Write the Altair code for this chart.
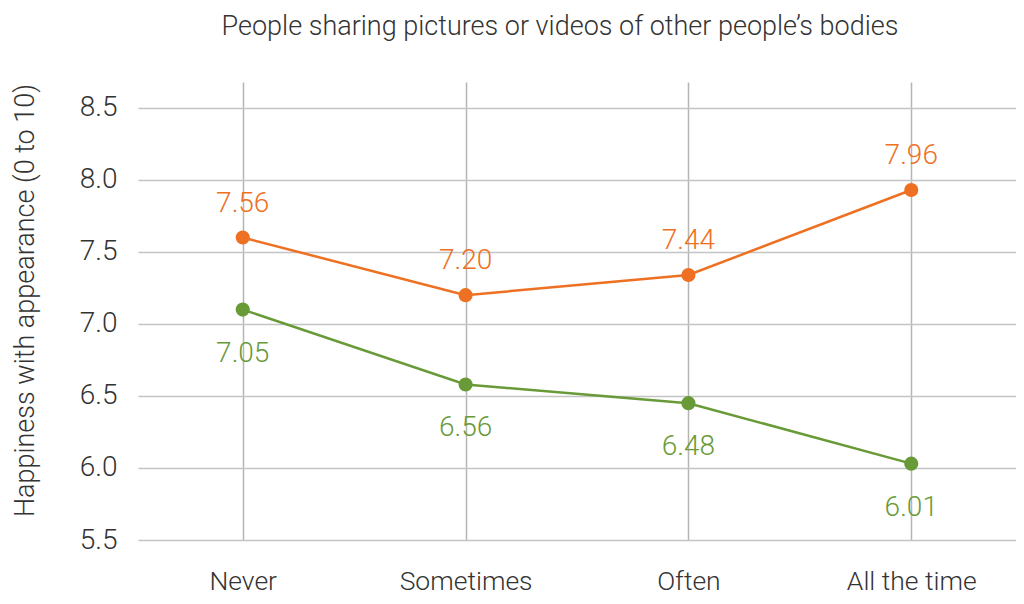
import altair as alt
import pandas as pd

categories = ["Never", "Sometimes", "Often", "All the time"]
orange_values = [7.60, 7.20, 7.34, 7.93]
green_values = [7.10, 6.58, 6.45, 6.03]
orange_labels = ["7.56", "7.20", "7.44", "7.96"]
green_labels = ["7.05", "6.56", "6.48", "6.01"]
series_names = ["Orange", "Green"]
y_ticks = [5.5, 6.0, 6.5, 7.0, 7.5, 8.0, 8.5]

ORANGE = "#EE7022"
GREEN = "#699A38"
FONT = "Roboto"

rows = []
for name, vals, labs in zip(series_names, [orange_values, green_values], [orange_labels, green_labels]):
    for c, v, l in zip(categories, vals, labs):
        rows.append({"cat": c, "value": v, "label": l, "series": name})
df = pd.DataFrame(rows)

x = alt.X(
    "cat:N",
    sort=categories,
    scale=alt.Scale(type="point", padding=0.47),
    axis=alt.Axis(
        title=None, grid=True, gridColor="#b5b5b5", gridWidth=1.5,
        domain=False, ticks=False, labelAngle=0,
        labelFont=FONT, labelFontWeight=300, labelFontSize=26.5,
        labelColor="#333333", labelPadding=49, labelBaseline="alphabetic",
    ),
)
y = alt.Y(
    "value:Q",
    scale=alt.Scale(domain=[5.5, 8.68], nice=False, zero=False),
    axis=alt.Axis(
        values=y_ticks, format=".1f", grid=True, gridColor="#c4c4c4", gridWidth=1.5,
        domain=False, ticks=False,
        labelFont=FONT, labelFontWeight=300, labelFontSize=28,
        labelColor="#333333", labelPadding=21,
        title="Happiness with appearance (0 to 10)",
        titleFont=FONT, titleFontWeight=300, titleFontSize=27, titleColor="#333333",
        titleX=-113, titleY=218, titleAngle=270, titleAlign="center", titleBaseline="middle",
    ),
)
color = alt.Color("series:N", scale=alt.Scale(domain=series_names, range=[ORANGE, GREEN]), legend=None)

base = alt.Chart(df).encode(x=x, y=y, color=color)

lines = base.mark_line(strokeWidth=2.5)
points = base.mark_point(filled=True, size=200, opacity=1)
text_orange = base.transform_filter(alt.datum.series == "Orange").mark_text(
    font=FONT, fontWeight=300, fontSize=28, dy=-34, baseline="middle"
).encode(text="label:N")
text_green = base.transform_filter(alt.datum.series == "Green").mark_text(
    font=FONT, fontWeight=300, fontSize=28, dy=44, baseline="middle"
).encode(text="label:N")

chart = alt.layer(lines, points, text_orange, text_green).properties(
    width=878,
    height=458,
    padding={"left": 130, "top": 74, "right": 0, "bottom": 56},
    autosize="none",
    title=alt.TitleParams(
        "People sharing pictures or videos of other people\u2019s bodies",
        font=FONT, fontWeight=300, fontSize=27, color="#333333",
        anchor="middle", dx=-17, offset=41,
    ),
).configure(background="white", view=alt.ViewConfig(stroke=None))

chart.save("out.html", embed_options={"renderer": "svg", "actions": False})
